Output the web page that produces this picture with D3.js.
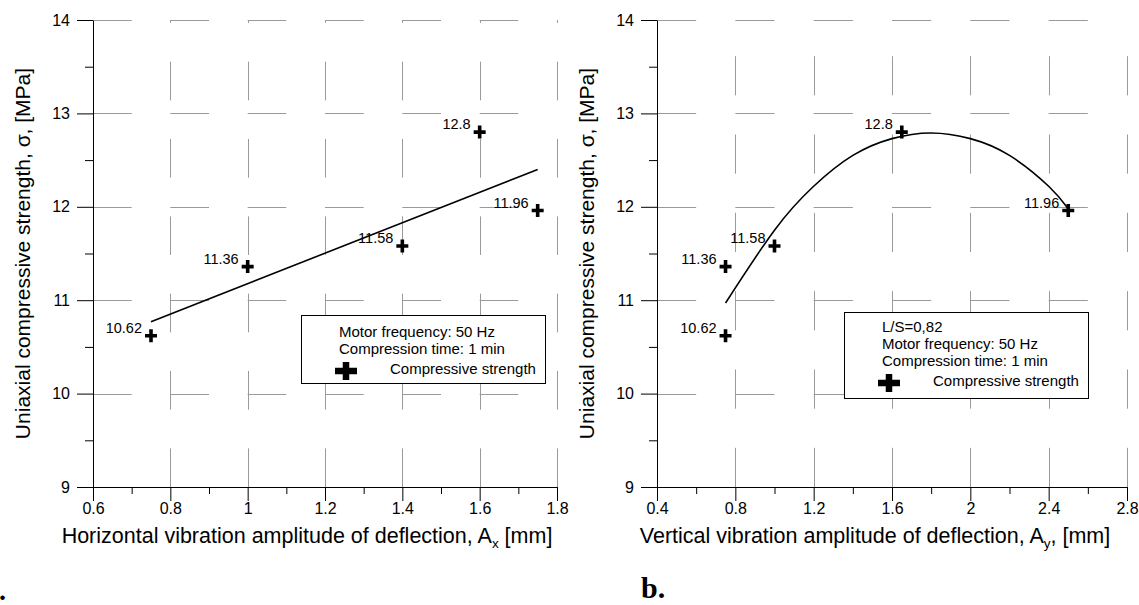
<!DOCTYPE html>
<html>
<head>
<meta charset="utf-8">
<script src="https://cdn.jsdelivr.net/npm/d3@7"></script>
<style>
  html, body { margin: 0; padding: 0; background: #fff; }
  svg { display: block; }
  text { font-family: Arial, "Liberation Sans", sans-serif; fill: #000; }
  text.serif { font-family: "Liberation Serif", "Times New Roman", serif; font-weight: bold; }
</style>
</head>
<body>
<svg id="chart" width="1139" height="605"></svg>
<script>
// ---------- data ----------
const yTicks = [9, 10, 11, 12, 13, 14];
const yMinor = [9.5, 10.5, 11.5, 12.5, 13.5];

const xTicksA = [0.6, 0.8, 1, 1.2, 1.4, 1.6, 1.8];
const xMinorA = [0.7, 0.9, 1.1, 1.3, 1.5, 1.7];
const ampA = [0.75, 1.0, 1.4, 1.6, 1.75];
const strengthA = [10.62, 11.36, 11.58, 12.8, 11.96];
const labelsA = ["10.62", "11.36", "11.58", "12.8", "11.96"];
const trendAx = [0.75, 1.75];
const trendAy = [10.77, 12.40];

const xTicksB = [0.4, 0.8, 1.2, 1.6, 2.0, 2.4, 2.8];
const xMinorB = [0.6, 1.0, 1.4, 1.8, 2.2, 2.6];
const ampB = [0.75, 0.75, 1.0, 1.65, 2.5];
const strengthB = [10.62, 11.36, 11.58, 12.8, 11.96];
const labelsB = ["10.62", "11.36", "11.58", "12.8", "11.96"];
const fitBx = [0.75, 1.0, 1.2, 1.4, 1.6, 1.8, 2.0, 2.2, 2.4, 2.5];
const fitBy = [10.97, 11.75, 12.22, 12.55, 12.73, 12.79, 12.73, 12.55, 12.22, 11.98];

const legendA = ["Motor frequency: 50 Hz", "Compression time: 1 min"];
const legendB = ["L/S=0,82", "Motor frequency: 50 Hz", "Compression time: 1 min"];
const legendSeries = "Compressive strength";
const yTitle = "Uniaxial compressive strength, \u03C3, [MPa]";

// ---------- drawing ----------
const svg = d3.select("#chart");
const fmt = d => String(+d.toFixed(1));

function panel(opt) {
  const x = d3.scaleLinear().domain(opt.xDomain).range(opt.xRange);
  const y = d3.scaleLinear().domain([yTicks[0], yTicks[yTicks.length - 1]]).range([487, 20]);
  const g = svg.append("g");
  const x0 = x.range()[0], x1 = x.range()[1];
  const y0 = y.range()[0], y1 = y.range()[1];
  const half = (x(opt.xTicks[1]) - x(opt.xTicks[0])) / 2;

  // grid
  const grid = g.append("g").attr("stroke", "#9a9a9a").attr("stroke-width", 1)
    .attr("fill", "none").attr("stroke-dasharray", `${half},${half}`);
  grid.selectAll("path.h").data(yTicks.slice(1)).join("path")
    .attr("d", d => `M${x0},${Math.round(y(d)) + 0.5}H${x1}`);
  grid.selectAll("path.v").data(opt.xTicks.slice(1)).join("path")
    .attr("d", d => `M${Math.round(x(d)) + 0.5},${y0}V${y1}`);

  // axes
  g.append("g").attr("transform", `translate(${Math.round(x0)},0)`)
    .call(d3.axisLeft(y).tickValues(yTicks).tickSize(16).tickSizeOuter(0).tickPadding(7).tickFormat(d3.format("d")));
  g.append("g").attr("transform", `translate(${Math.round(x0)},0)`)
    .call(d3.axisLeft(y).tickValues(yMinor).tickSize(8).tickSizeOuter(0).tickFormat(""))
    .select(".domain").remove();
  g.append("g").attr("transform", `translate(0,${Math.round(y0)})`)
    .call(d3.axisBottom(x).tickValues(opt.xTicks).tickSize(14).tickSizeOuter(0).tickPadding(2).tickFormat(fmt));
  g.append("g").attr("transform", `translate(0,${Math.round(y0)})`)
    .call(d3.axisBottom(x).tickValues(opt.xMinor).tickSize(7).tickSizeOuter(0).tickFormat(""))
    .select(".domain").remove();
  g.selectAll(".tick text").attr("font-size", 16).attr("fill", "#000");
  g.selectAll(".tick line, .domain").attr("stroke", "#000");

  // titles
  g.append("text")
    .attr("transform", `translate(${x0 - 63},${(y0 + y1) / 2}) rotate(-90)`)
    .attr("text-anchor", "middle").attr("font-size", 21).text(yTitle);
  const xt = g.append("text").attr("x", opt.xTitleX).attr("y", 543)
    .attr("text-anchor", "middle").attr("font-size", 21.5);
  xt.append("tspan").text(opt.xTitle[0]);
  xt.append("tspan").attr("font-size", 13.5).attr("dy", 5).text(opt.xTitle[1]);
  xt.append("tspan").attr("dy", -5).text(opt.xTitle[2]);

  // fitted curve
  const line = d3.line().x(d => x(d[0])).y(d => y(d[1])).curve(opt.curve);
  g.append("path").datum(d3.zip(opt.fitX, opt.fitY))
    .attr("d", line).attr("fill", "none").attr("stroke", "#000").attr("stroke-width", 1.6);

  // points
  const pts = d3.zip(opt.amp, opt.val, opt.labels);
  g.selectAll("path.pt").data(pts).join("path")
    .attr("d", d => `M${x(d[0]) - 6},${y(d[1])}H${x(d[0]) + 6}M${x(d[0])},${y(d[1]) - 6.5}V${y(d[1]) + 6.5}`)
    .attr("stroke", "#000").attr("stroke-width", 3.6).attr("fill", "none");
  g.selectAll("text.lbl").data(pts).join("text")
    .attr("x", d => x(d[0]) - 9).attr("y", d => y(d[1]) - 3)
    .attr("text-anchor", "end").attr("font-size", 14.5).text(d => d[2]);

  // legend
  const L = opt.legend;
  const lg = g.append("g");
  lg.append("rect").attr("x", L.x + 0.5).attr("y", L.y + 0.5).attr("width", L.w).attr("height", L.h)
    .attr("fill", "#fff").attr("stroke", "#000").attr("stroke-width", 1);
  lg.selectAll("text.l").data(L.lines).join("text")
    .attr("x", L.tx).attr("y", (d, i) => L.ty + i * 17).attr("font-size", 15).text(d => d);
  const my = L.ty + L.lines.length * 17 + 3;
  lg.append("path")
    .attr("d", `M${L.mx - 11},${my - 3}H${L.mx + 11}M${L.mx},${my - 12}V${my + 6}`)
    .attr("stroke", "#000").attr("stroke-width", 6.5);
  lg.append("text").attr("x", L.sx).attr("y", my).attr("font-size", 15).text(legendSeries);
}

panel({
  xDomain: [xTicksA[0], xTicksA[xTicksA.length - 1]], xRange: [93, 557],
  xTicks: xTicksA, xMinor: xMinorA,
  amp: ampA, val: strengthA, labels: labelsA,
  fitX: trendAx, fitY: trendAy, curve: d3.curveLinear,
  xTitle: ["Horizontal vibration amplitude of deflection, A", "x", " [mm]"], xTitleX: 307,
  legend: { x: 301, y: 315, w: 244, h: 68, tx: 339, ty: 337, mx: 346, sx: 390, lines: legendA }
});

panel({
  xDomain: [xTicksB[0], xTicksB[xTicksB.length - 1]], xRange: [657, 1127],
  xTicks: xTicksB, xMinor: xMinorB,
  amp: ampB, val: strengthB, labels: labelsB,
  fitX: fitBx, fitY: fitBy, curve: d3.curveNatural,
  xTitle: ["Vertical vibration amplitude of deflection, A", "y", ", [mm]"], xTitleX: 875,
  legend: { x: 844, y: 312, w: 244, h: 86, tx: 882, ty: 332, mx: 889, sx: 933, lines: legendB }
});

// panel letters
svg.append("text").attr("class", "serif").attr("x", -15).attr("y", 600)
  .attr("font-size", 28).text("a.");
svg.append("text").attr("class", "serif").attr("x", 641).attr("y", 598)
  .attr("font-size", 30).text("b.");
</script>
</body>
</html>
